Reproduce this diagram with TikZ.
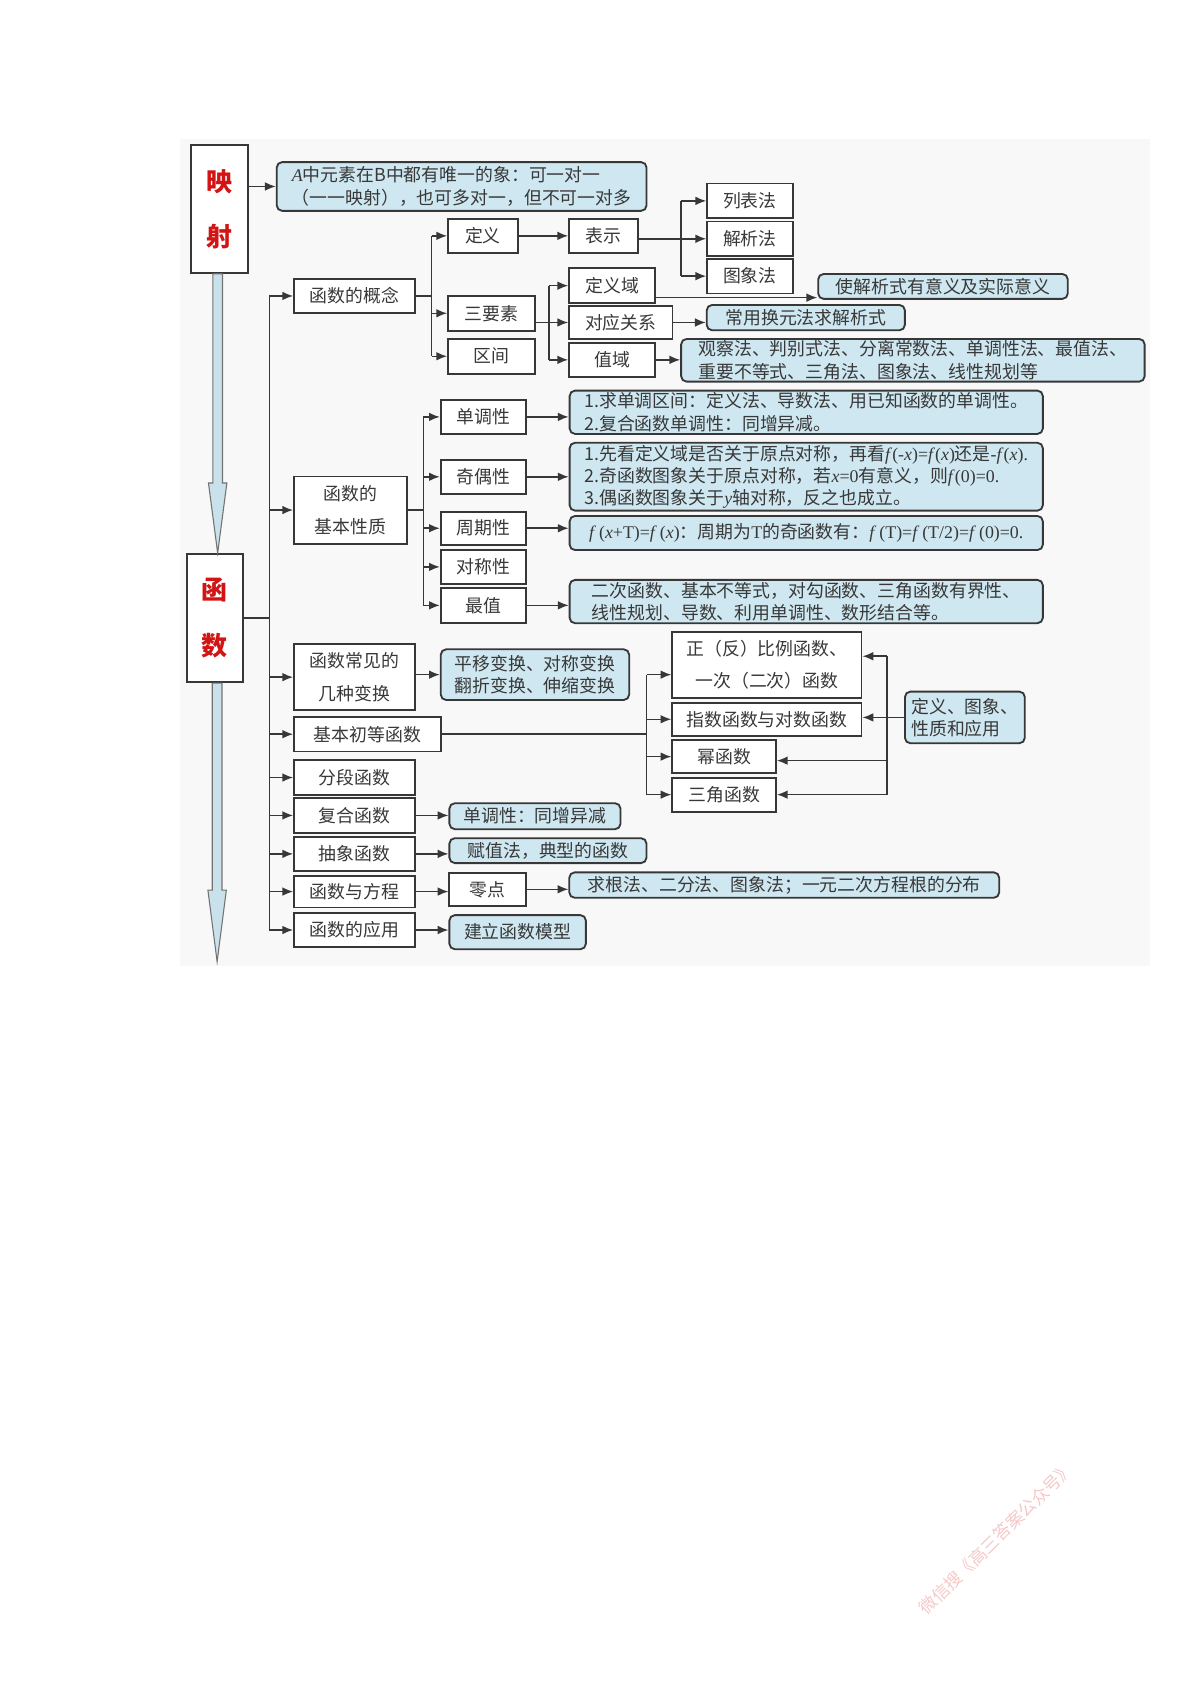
\documentclass[tikz,border=0pt]{standalone}
\usepackage{fontspec}
\setmainfont{Noto Sans CJK SC}
\newfontfamily\tnr{Liberation Serif}
\usepackage{xcolor}
\usetikzlibrary{arrows.meta}

\definecolor{lineg}{RGB}{55,55,55}
\definecolor{boxblue}{RGB}{206,231,240}
\definecolor{shaftblue}{RGB}{200,225,235}
\definecolor{titlered}{RGB}{210,20,20}
\definecolor{bgdots}{RGB}{248,248,248}
\definecolor{wmpink}{RGB}{245,200,200}
\newcommand{\tms}[1]{{\tnr #1}}

\begin{document}
\begin{tikzpicture}[x=1pt,y=-1pt,
  every node/.style={font=\fontsize{16.5}{20.5}\selectfont,text=black!78},
  sz/.style 2 args={minimum width=#1,minimum height=#2},
  pbox/.style={draw=lineg,line width=1.7pt,fill=white,inner sep=0pt,align=center},
  bbox/.style={draw=lineg,line width=1.7pt,fill=boxblue,rounded corners=5pt,inner sep=0pt,align=left},
  conn/.style={draw=lineg,line width=1.4pt},
  arr/.style={conn,-{Latex[length=10pt,width=8pt]}},
  bigarr/.style={draw=black!55,line width=1pt,fill=shaftblue}]
\useasboundingbox (0,0) rectangle (1108,1568);
\fill[bgdots] (166,128) rectangle (1062,892);

% left column
\node[pbox,sz={53pt}{118pt},font=\fontsize{24}{51}\selectfont\bfseries,text=titlered] (ys) at (202.5,193) {映\\射};
\node[pbox,sz={51.5pt}{118.4pt},font=\fontsize{24}{51}\selectfont\bfseries,text=titlered] (hs) at (198.3,570.8) {函\\数};
\node[bbox,sz={341.5pt}{45pt}] (ab) at (426.3,172.2) {\tms{\textit{A}}中元素在B中都有唯一的象：可一对一\\（一一映射），也可多对一，但不可一对多};

\node[pbox,sz={111.5pt}{31.4pt}] (gnz) at (327.3,273.3) {函数的概念};
\node[pbox,sz={64.3pt}{31.6pt}] (dy) at (445.9,217.8) {定义};
\node[pbox,sz={80.3pt}{32.6pt}] (sys) at (453.9,289.3) {三要素};
\node[pbox,sz={80.3pt}{32pt}] (qj) at (453.9,329) {区间};
\node[pbox,sz={63.5pt}{31.6pt}] (bs) at (557.3,217.8) {表示};
\node[pbox,sz={79pt}{32pt}] (lbf) at (692.5,185.5) {列表法};
\node[pbox,sz={79pt}{32pt}] (jxf) at (692.5,220.5) {解析法};
\node[pbox,sz={79pt}{32pt}] (txf) at (692.5,255) {图象法};
\node[pbox,sz={79.5pt}{32.5pt}] (dyy) at (565.3,263.8) {定义域};
\node[pbox,sz={95.5pt}{30.5pt}] (dygx) at (573.3,297.8) {对应关系};
\node[pbox,sz={79.5pt}{31.3pt}] (zy) at (565.3,332.3) {值域};
\node[bbox,sz={230.5pt}{23pt}] (syx) at (870.8,264.5) {使解析式有意义及实际意义};
\node[bbox,sz={183pt}{23.4pt}] (cyhy) at (744.1,293.3) {常用换元法求解析式};
\node[bbox,sz={428pt}{39.4pt}] (gcf) at (843,332.7) {观察法、判别式法、分离常数法、单调性法、最值法、\\重要不等式、三角法、图象法、线性规划等};

\node[pbox,sz={104pt}{62pt}] (jbxz) at (323.5,471) {函数的\\[10pt]基本性质};
\node[pbox,sz={79pt}{31.4pt}] (ddx) at (446.5,385) {单调性};
\node[pbox,sz={79pt}{31.3pt}] (joux) at (446.5,440.3) {奇偶性};
\node[pbox,sz={79pt}{30.5pt}] (zqx) at (446.5,487.8) {周期性};
\node[pbox,sz={79pt}{31pt}] (dcx) at (446.5,523.5) {对称性};
\node[pbox,sz={79pt}{32pt}] (zz) at (446.5,559) {最值};
\node[bbox,sz={437pt}{40pt}] (ddxd) at (744.5,380.7) {1.求单调区间：定义法、导数法、用已知函数的单调性。\\2.复合函数单调性：同增异减。};
\node[bbox,sz={437pt}{62.7pt}] (jouxd) at (744.5,440.2) {1.先看定义域是否关于原点对称，再看\tms{\textit{f}(-\textit{x})=\textit{f}(\textit{x})}还是\tms{-\textit{f}(\textit{x}).}\\2.奇函数图象关于原点对称，若\tms{\textit{x}=0}有意义，则\tms{\textit{f}(0)=0.}\\3.偶函数图象关于\tms{\textit{y}}轴对称，反之也成立。};
\node[bbox,sz={437pt}{31.5pt}] (zqxd) at (744.5,492.2) {\tms{\textit{f}\,(\textit{x}+T)=\textit{f}\,(\textit{x})}：周期为\tms{T}的奇函数有：\tms{\textit{f}\,(T)=\textit{f}\,(T/2)=\textit{f}\,(0)=0.}};
\node[bbox,sz={437pt}{40pt}] (zzd) at (744.5,555.5) {二次函数、基本不等式，对勾函数、三角函数有界性、\\线性规划、导数、利用单调性、数形结合等。};

\node[pbox,sz={111.5pt}{61.4pt}] (bh) at (327.3,625.3) {函数常见的\\[10pt]几种变换};
\node[bbox,sz={174pt}{46.8pt}] (pybh) at (494,623) {平移变换、对称变换\\翻折变换、伸缩变换};
\node[pbox,sz={135.5pt}{32pt}] (jbcd) at (339.3,678) {基本初等函数};
\node[pbox,sz={111.5pt}{32pt}] (fd) at (327.3,718) {分段函数};
\node[pbox,sz={111.5pt}{32pt}] (fh) at (327.3,753) {复合函数};
\node[pbox,sz={111.5pt}{31pt}] (cx) at (327.3,788.5) {抽象函数};
\node[pbox,sz={111.5pt}{29.5pt}] (fc) at (327.3,823.3) {函数与方程};
\node[pbox,sz={111.5pt}{31.5pt}] (yy) at (327.3,858.8) {函数的应用};

\node[pbox,sz={174.8pt}{61.5pt}] (zfb) at (708.2,614) {正（反）比例函数、\\[9pt]一次（二次）函数};
\node[pbox,sz={174.8pt}{30.8pt}] (zs) at (708.2,664.2) {指数函数与对数函数};
\node[pbox,sz={95.7pt}{30.7pt}] (mhs) at (668.7,698.7) {幂函数};
\node[pbox,sz={95.7pt}{31.5pt}] (sj) at (668.7,733.8) {三角函数};
\node[bbox,sz={110.7pt}{47.7pt}] (dytx) at (891,662.5) {定义、图象、\\性质和应用};

\node[bbox,sz={158pt}{24pt}] (fhd) at (494,753.7) {单调性：同增异减};
\node[bbox,sz={182pt}{23pt}] (fzf) at (506,785.5) {赋值法，典型的函数};
\node[pbox,sz={71pt}{30.8pt}] (ld) at (450.5,821.2) {零点};
\node[bbox,sz={397pt}{23.5pt}] (qgf) at (724.2,817.3) {求根法、二分法、图象法；一元二次方程根的分布};
\node[bbox,sz={126pt}{31.5pt}] (jlmx) at (478,860.8) {建立函数模型};

% big arrows
\filldraw[bigarr] (196.5,0 |- ys.south) -- (196.5,446) -- (192.5,446) -- (201,0 |- hs.north) -- (209.5,446) -- (205.5,446) -- (205.5,0 |- ys.south) -- cycle;
\filldraw[bigarr] (196,0 |- hs.south) -- (196,822) -- (192,822) -- (200.5,888) -- (209,822) -- (205,822) -- (205,0 |- hs.south) -- cycle;

\draw[arr] (ab.west -| ys.east) -- (ab.west);

% trunk
\coordinate (trunk) at (248.7,570.8);
\draw[conn] (hs.east) -- (trunk);
\draw[conn] (gnz.west -| trunk) -- (yy.west -| trunk);
\draw[arr] (gnz.west -| trunk) -- (gnz.west);
\draw[arr] (jbxz.west -| trunk) -- (jbxz.west);
\draw[arr] (bh.west -| trunk) -- (bh.west);
\draw[arr] (jbcd.west -| trunk) -- (jbcd.west);
\draw[arr] (fd.west -| trunk) -- (fd.west);
\draw[arr] (fh.west -| trunk) -- (fh.west);
\draw[arr] (cx.west -| trunk) -- (cx.west);
\draw[arr] (fc.west -| trunk) -- (fc.west);
\draw[arr] (yy.west -| trunk) -- (yy.west);

% concept
\coordinate (b1) at (398.6,273.3);
\draw[conn] (gnz.east) -- (b1);
\draw[conn] (dy.west -| b1) -- (qj.west -| b1);
\draw[arr] (dy.west -| b1) -- (dy.west);
\draw[arr] (sys.west -| b1) -- (sys.west);
\draw[arr] (qj.west -| b1) -- (qj.west);
\draw[arr] (dy) -- (bs);
\coordinate (b2) at (629,220.5);
\draw[conn] (bs.east |- b2) -- (b2);
\draw[conn] (lbf.west -| b2) -- (txf.west -| b2);
\draw[arr] (lbf.west -| b2) -- (lbf.west);
\draw[arr] (jxf.west -| b2) -- (jxf.west);
\draw[arr] (txf.west -| b2) -- (txf.west);
\coordinate (b3) at (507,297.8);
\draw[conn] (sys.east |- b3) -- (b3);
\draw[conn] (dyy.west -| b3) -- (zy.west -| b3);
\draw[arr] (dyy.west -| b3) -- (dyy.west);
\draw[arr] (dygx.west -| b3) -- (dygx.west);
\draw[arr] (zy.west -| b3) -- (zy.west);
\coordinate (syxin) at ([yshift=2pt]syx.south west);
\draw[arr] (syxin -| dyy.east) -- (syxin);
\draw[arr] (dygx.east) -- (dygx.east -| cyhy.west);
\draw[arr] (zy.east) -- (zy.east -| gcf.west);

% properties
\coordinate (b4) at (391,471);
\draw[conn] (jbxz.east) -- (b4);
\draw[conn] (ddx.west -| b4) -- (zz.west -| b4);
\draw[arr] (ddx.west -| b4) -- (ddx.west);
\draw[arr] (joux.west -| b4) -- (joux.west);
\draw[arr] (zqx.west -| b4) -- (zqx.west);
\draw[arr] (dcx.west -| b4) -- (dcx.west);
\draw[arr] (zz.west -| b4) -- (zz.west);
\draw[arr] (ddx.east) -- (ddx.east -| ddxd.west);
\draw[arr] (joux.east) -- (joux.east -| jouxd.west);
\draw[arr] (zqx.east) -- (zqx.east -| zqxd.west);
\draw[arr] (zz.east) -- (zz.east -| zzd.west);

% transforms, elementary functions
\draw[arr] (pybh.west -| bh.east) -- (pybh.west);
\coordinate (b5) at (597,678);
\draw[conn] (jbcd.east) -- (b5);
\coordinate (zfbl) at ([yshift=-9pt]zfb.west);
\draw[conn] (zfbl -| b5) -- (sj.west -| b5);
\draw[arr] (zfbl -| b5) -- (zfbl);
\draw[arr] (zs.west -| b5) -- (zs.west);
\draw[arr] (mhs.west -| b5) -- (mhs.west);
\draw[arr] (sj.west -| b5) -- (sj.west);
\coordinate (b6) at (819.3,662.5);
\coordinate (zfbr) at ([yshift=8pt]zfb.east);
\coordinate (mhsr) at ([yshift=-3.7pt]mhs.east);
\draw[conn] (zfbr -| b6) -- (sj.east -| b6);
\draw[arr] (dytx.west) -- (dytx.west -| zs.east);
\draw[arr] (zfbr -| b6) -- (zfbr);
\draw[arr] (mhsr -| b6) -- (mhsr);
\draw[arr] (sj.east -| b6) -- (sj.east);

% the rest
\draw[arr] (fh.east) -- (fh.east -| fhd.west);
\draw[arr] (cx.east) -- (cx.east -| fzf.west);
\draw[arr] (fc.east) -- (fc.east -| ld.west);
\draw[arr] (ld.east) -- (ld.east -| qgf.west);
\draw[arr] (yy.east) -- (yy.east -| jlmx.west);

\node[rotate=44.4,text=wmpink,font=\fontsize{16}{16}\selectfont] (wm) at (920,1420.5) {微信搜《高三答案公众号》};
\end{tikzpicture}
\end{document}
